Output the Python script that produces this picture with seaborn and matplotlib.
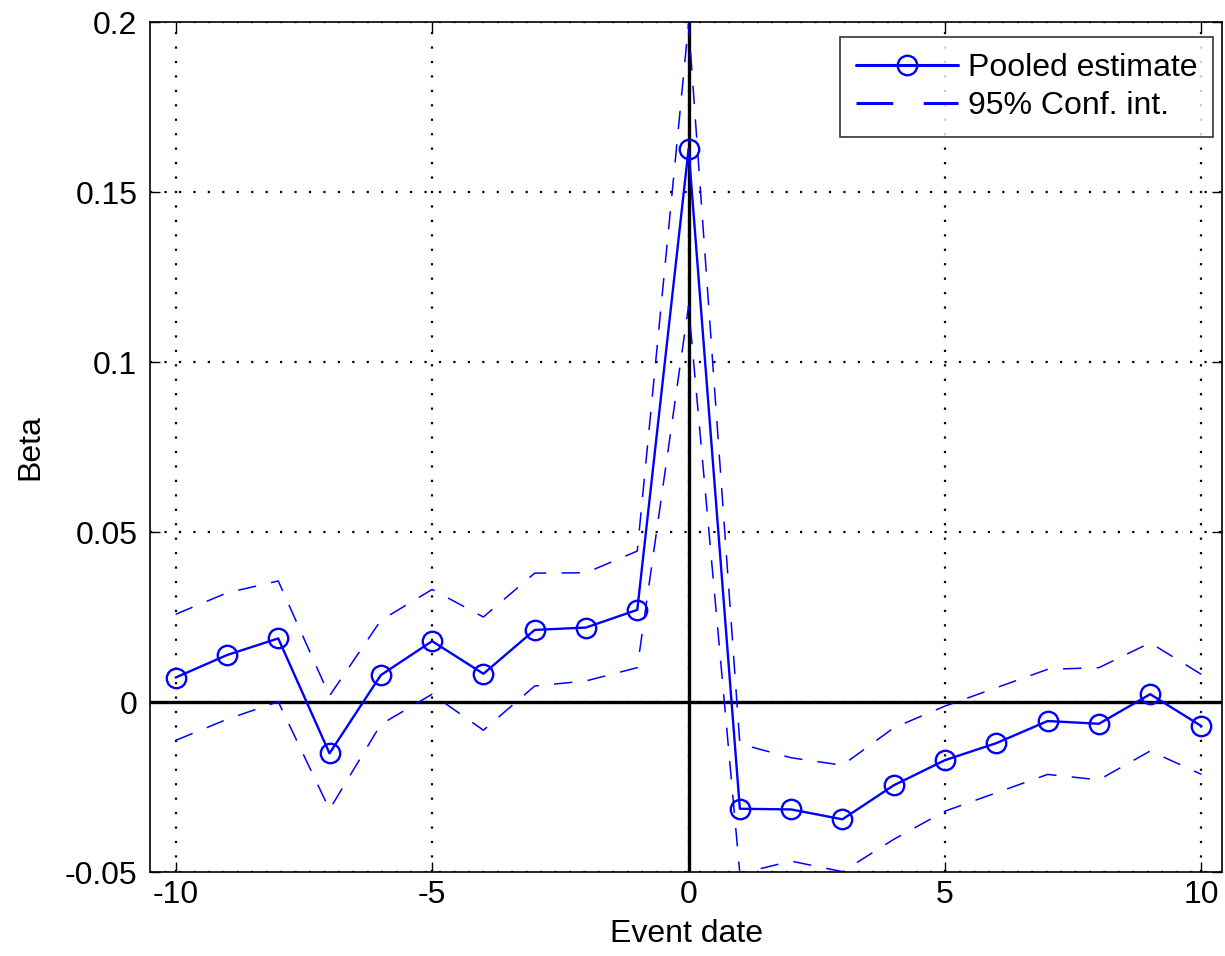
import numpy as np
import pandas as pd
import matplotlib
matplotlib.use("Agg")
import matplotlib.pyplot as plt
from matplotlib.ticker import FuncFormatter
import seaborn as sns

event_date = list(range(-10, 11))
beta = [0.0072, 0.0138, 0.0187, -0.0151, 0.0079, 0.0179, 0.0083, 0.0212, 0.0219, 0.0271,
        0.1626,
        -0.0314, -0.0316, -0.0345, -0.0245, -0.0171, -0.0121, -0.0056, -0.0064, 0.0023, -0.0071]
ci_upper = [0.0258, 0.0321, 0.0356, 0.0018, 0.0240, 0.0331, 0.0250, 0.0379, 0.0380, 0.0444,
            0.1995,
            -0.0123, -0.0164, -0.0186, -0.0076, -0.0012, 0.0042, 0.0096, 0.0101, 0.0174, 0.0081]
ci_lower = [-0.0113, -0.0051, 0.0001, -0.0316, -0.0066, 0.0023, -0.0083, 0.0047, 0.0062, 0.0101,
            0.1165,
            -0.0505, -0.0468, -0.0499, -0.0404, -0.0321, -0.0267, -0.0213, -0.0229, -0.0144, -0.0213]
yticks = [-0.05, 0, 0.05, 0.1, 0.15, 0.2]
xticks = [-10, -5, 0, 5, 10]

df = pd.DataFrame({"event": event_date, "beta": beta,
                   "upper": ci_upper, "lower": ci_lower})

sns.set_style("white")
plt.rcParams["font.family"] = ["Liberation Sans", "DejaVu Sans"]
plt.rcParams["axes.unicode_minus"] = False
plt.rcParams["text.color"] = "black"
plt.rcParams["axes.labelcolor"] = "black"
fs = 23

fig = plt.figure(figsize=(12.25, 9.56), dpi=100)
ax = fig.add_axes([150 / 1225, 84 / 956, 1072 / 1225, 850 / 956])

# grid and zero lines
for x in xticks:
    ax.axvline(x, color="black", lw=1.6, ls=(0, (1, 5.5)), zorder=0)
for y in yticks:
    ax.axhline(y, color="black", lw=1.6, ls=(0, (1, 5.5)), zorder=0)
ax.axhline(0, color="black", lw=2.4, zorder=1)
ax.axvline(0, color="black", lw=2.4, zorder=1)

blue = (0, 0, 1)
sns.lineplot(data=df, x="event", y="upper", ax=ax, color=blue, lw=1.1,
             linestyle=(0, (12, 10)), label="95% Conf. int.",
             estimator=None, zorder=2)
sns.lineplot(data=df, x="event", y="lower", ax=ax, color=blue, lw=1.1,
             linestyle=(0, (12, 10)), estimator=None, zorder=2)
sns.lineplot(data=df, x="event", y="beta", ax=ax, color=blue, lw=1.7,
             marker="o", markersize=14, markerfacecolor="none",
             markeredgecolor=blue, markeredgewidth=1.7,
             label="Pooled estimate", estimator=None, zorder=3)

ax.set_xlim(-10.5, 10.4)
ax.set_ylim(-0.05, 0.2)
ax.set_xticks(xticks)
ax.set_yticks(yticks)
ax.yaxis.set_major_formatter(FuncFormatter(lambda v, p: "%g" % round(v, 4)))
ax.tick_params(direction="in", length=7, width=1, labelsize=fs, pad=9,
               top=True, right=True, bottom=True, left=True, colors="black")
ax.tick_params(axis="x", pad=6)
for s in ax.spines.values():
    s.set_visible(True)
    s.set_color("black")
    s.set_linewidth(1.2)

ax.set_xlabel("Event date", fontsize=fs, labelpad=6)
ax.set_ylabel("Beta", fontsize=fs, labelpad=14)

h, l = ax.get_legend_handles_labels()
order = [l.index("Pooled estimate"), l.index("95% Conf. int.")]
leg = ax.legend([h[i] for i in order], [l[i] for i in order], loc="upper right",
                bbox_to_anchor=(1213 / 1225, 1 - 37 / 956),
                bbox_transform=fig.transFigure, borderaxespad=0,
                fontsize=fs, frameon=True, fancybox=False, handlelength=3.2,
                handletextpad=0.3, labelspacing=0.25, borderpad=0.5)
leg.get_frame().set_edgecolor("black")
leg.get_frame().set_linewidth(1.2)
for line in leg.get_lines():
    line.set_linewidth(2.2)

fig.savefig("out.png", dpi=100)
